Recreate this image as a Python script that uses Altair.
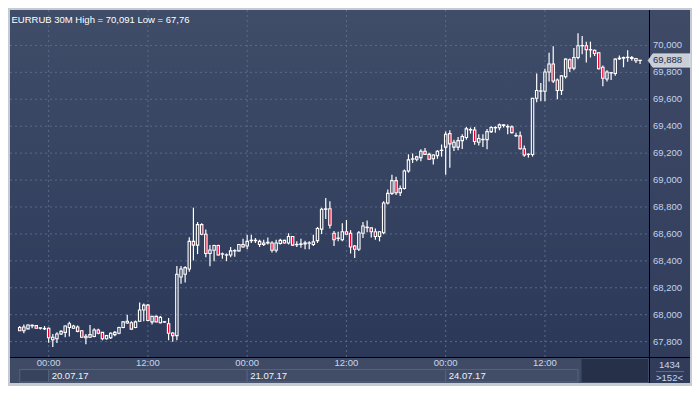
import altair as alt
import pandas as pd

# ---------------- data ----------------
opens = [67905, 67881, 67895, 67918, 67919, 67900, 67895, 67900, 67814, 67821,
         67857, 67869, 67905, 67900, 67909, 67881, 67829, 67833, 67838, 67886,
         67869, 67821, 67829, 67852, 67862, 67905, 67938, 67940, 67905, 67952,
         68035, 68071, 67947, 67988, 67940, 67945, 67933, 67864, 67845, 68280,
         68300, 68340, 68545, 68517, 68669, 68598, 68455, 68479, 68514, 68450,
         68443, 68443, 68474, 68474, 68522, 68510, 68550, 68553, 68545, 68522,
         68533, 68533, 68479, 68529, 68552, 68533, 68581, 68520, 68522, 68526,
         68533, 68522, 68550, 68636, 68783, 68787, 68605, 68567, 68557, 68616,
         68605, 68510, 68486, 68605, 68650, 68645, 68616, 68581, 68609, 68830,
         68901, 68996, 68906, 68937, 69067, 69155, 69155, 69167, 69214, 69191,
         69158, 69181, 69220, 69245, 69345, 69245, 69245, 69293, 69316, 69375,
         69372, 69281, 69300, 69300, 69360, 69390, 69388, 69410, 69395, 69395,
         69330, 69328, 69233, 69190, 69190, 69608, 69660, 69660, 69803, 69862,
         69743, 69665, 69767, 69893, 69831, 69910, 69997, 69997, 69969, 69964,
         69945, 69838, 69751, 69796, 69791, 69900, 69905, 69912, 69910, 69903,
         69890]
highs = [67916, 67928, 67928, 67928, 67924, 67905, 67916, 67905, 67857, 67870,
         67885, 67920, 67947, 67925, 67920, 67885, 67857, 67924, 67900, 67895,
         67870, 67850, 67870, 67880, 67910, 67952, 67999, 67952, 67957, 68090,
         68083, 68080, 67990, 67995, 67990, 67952, 67976, 67870, 68362, 68362,
         68360, 68576, 68795, 68688, 68680, 68633, 68517, 68520, 68520, 68462,
         68455, 68503, 68486, 68525, 68564, 68593, 68593, 68569, 68557, 68557,
         68574, 68545, 68557, 68564, 68557, 68605, 68585, 68545, 68564, 68550,
         68545, 68593, 68652, 68795, 68866, 68842, 68621, 68617, 68680, 68704,
         68628, 68517, 68621, 68688, 68699, 68647, 68640, 68621, 68842, 68930,
         69039, 69025, 68960, 69079, 69191, 69198, 69181, 69229, 69238, 69202,
         69191, 69222, 69264, 69360, 69370, 69300, 69320, 69340, 69395, 69390,
         69395, 69340, 69340, 69380, 69400, 69400, 69420, 69415, 69412, 69405,
         69352, 69360, 69257, 69198, 69610, 69791, 69720, 69827, 69945, 69993,
         69755, 69780, 69903, 69903, 69981, 70091, 70069, 70028, 70028, 69969,
         69950, 69850, 69815, 69803, 69903, 69926, 69917, 69964, 69921, 69905,
         69890]
lows = [67881, 67862, 67893, 67900, 67897, 67890, 67886, 67791, 67760, 67790,
        67850, 67833, 67838, 67895, 67870, 67829, 67781, 67829, 67833, 67855,
        67810, 67815, 67820, 67840, 67855, 67900, 67933, 67890, 67900, 67947,
        67952, 67952, 67928, 67945, 67935, 67940, 67810, 67800, 67810, 68230,
        68240, 68320, 68403, 68450, 68590, 68427, 68360, 68398, 68440, 68415,
        68398, 68427, 68431, 68470, 68500, 68486, 68533, 68533, 68503, 68510,
        68522, 68462, 68462, 68522, 68530, 68522, 68510, 68503, 68498, 68486,
        68486, 68510, 68533, 68600, 68711, 68640, 68510, 68545, 68545, 68593,
        68455, 68422, 68474, 68569, 68612, 68574, 68557, 68545, 68597, 68818,
        68889, 68889, 68882, 68930, 69055, 69127, 69139, 69139, 69186, 69150,
        69115, 69158, 69174, 69039, 69091, 69215, 69222, 69230, 69300, 69345,
        69262, 69257, 69245, 69229, 69350, 69352, 69370, 69390, 69340, 69345,
        69320, 69225, 69174, 69167, 69174, 69577, 69585, 69585, 69732, 69720,
        69601, 69632, 69755, 69803, 69815, 69898, 69934, 69874, 69910, 69921,
        69822, 69696, 69732, 69744, 69774, 69893, 69838, 69879, 69886, 69870,
        69862]
closes = [67881, 67909, 67924, 67922, 67900, 67903, 67898, 67829, 67833, 67857,
          67876, 67916, 67933, 67916, 67876, 67833, 67840, 67852, 67886, 67862,
          67821, 67845, 67862, 67869, 67905, 67947, 67952, 67893, 67947, 68035,
          68071, 67957, 67988, 67947, 67980, 67948, 67862, 67845, 68300, 68340,
          68350, 68545, 68517, 68669, 68598, 68455, 68481, 68514, 68443, 68452,
          68445, 68474, 68476, 68522, 68503, 68545, 68553, 68550, 68522, 68533,
          68538, 68479, 68533, 68552, 68533, 68581, 68517, 68522, 68526, 68533,
          68531, 68541, 68640, 68783, 68786, 68664, 68557, 68569, 68616, 68598,
          68503, 68486, 68609, 68659, 68647, 68616, 68581, 68616, 68830, 68901,
          68996, 68906, 68937, 69067, 69150, 69158, 69172, 69214, 69191, 69155,
          69186, 69214, 69222, 69340, 69269, 69281, 69293, 69323, 69380, 69372,
          69286, 69309, 69302, 69360, 69390, 69388, 69410, 69405, 69398, 69352,
          69329, 69233, 69186, 69192, 69608, 69665, 69662, 69803, 69862, 69736,
          69665, 69774, 69898, 69831, 69910, 69997, 69999, 69969, 69967, 69940,
          69827, 69756, 69803, 69798, 69898, 69905, 69910, 69910, 69903, 69886,
          69888]

y_ticks = [67800, 68000, 68200, 68400, 68600, 68800, 69000, 69200, 69400, 69600, 69800, 70000]
y_labels = ["67,800", "68,000", "68,200", "68,400", "68,600", "68,800",
            "69,000", "69,200", "69,400", "69,600", "69,800", "70,000"]
time_pos = [7, 31, 55, 79, 103, 127]
time_labels = ["00:00", "12:00", "00:00", "12:00", "00:00", "12:00"]
first_box = [0, 7]
day_start = [7, 55, 103]
day_end = [55, 103, 135]
day_labels = ["20.07.17", "21.07.17", "24.07.17"]
last_price = [69888]
last_label = ["69,888"]
title_text = "EURRUB 30M High = 70,091 Low = 67,76"
info_top = "1434"
info_bottom = ">152<"

# ---------------- layout ----------------
W, H = 639, 347
FONT = "Liberation Sans"
xs = alt.Scale(domain=[-1.14, 150.95], nice=False, zero=False)
ys = alt.Scale(domain=[67686, 70263], nice=False, zero=False)

n = len(opens)
df = pd.DataFrame({"i": list(range(n)), "o": opens, "h": highs, "l": lows, "c": closes})
df["top"] = df[["o", "c"]].max(axis=1)
df["bot"] = df[["o", "c"]].min(axis=1)
bull = df[df["c"] >= df["o"]]
bear = df[df["c"] < df["o"]]

one = pd.DataFrame({"a": [0]})
X = lambda f: alt.X(f, type="quantitative", scale=xs, axis=None)
Y = lambda f: alt.Y(f, type="quantitative", scale=ys, axis=None)

grad = alt.LinearGradient(
    gradient="linear",
    stops=[alt.GradientStop(color="#404d69", offset=0),
           alt.GradientStop(color="#2b3858", offset=1)],
    x1=0, x2=0, y1=0, y2=1)
grad_r = alt.LinearGradient(
    gradient="linear",
    stops=[alt.GradientStop(color="#3e4a66", offset=0),
           alt.GradientStop(color="#2f3b59", offset=1)],
    x1=0, x2=0, y1=0, y2=1)

bg = alt.Chart(one).mark_rect(fill=grad).encode(
    x=alt.value(0), x2=alt.value(W), y=alt.value(0), y2=alt.value(H))

gy = pd.DataFrame({"v": y_ticks, "lab": y_labels})
hgrid = alt.Chart(gy).mark_rule(color="#5b6a88", strokeDash=[2, 3], strokeWidth=1).encode(
    y=Y("v"), x=alt.value(0), x2=alt.value(W))

gt = pd.DataFrame({"p": time_pos, "lab": time_labels})
vgrid = alt.Chart(gt).mark_rule(color="#5b6a88", strokeDash=[2, 3], strokeWidth=1).encode(
    x=X("p"), y=alt.value(0), y2=alt.value(H))

wick_up = alt.Chart(df).mark_rule(color="#ffffff", strokeWidth=1.2).encode(
    x=X("i"), y=Y("h"), y2="top:Q")
wick_dn = alt.Chart(df).mark_rule(color="#ffffff", strokeWidth=1.2).encode(
    x=X("i"), y=Y("bot"), y2="l:Q")
body_bull = alt.Chart(bull).mark_bar(size=2.4, stroke="#ffffff", strokeWidth=1.1,
                                     fill="#34415f", fillOpacity=0).encode(
    x=X("i"), y=Y("top"), y2="bot:Q")
body_bear = alt.Chart(bear).mark_bar(size=2.4, stroke="#ffffff", strokeWidth=1.1,
                                     fill="#e8002e").encode(
    x=X("i"), y=Y("top"), y2="bot:Q")

# panels
right_panel = alt.Chart(one).mark_rect(fill=grad_r).encode(
    x=alt.value(640), x2=alt.value(680), y=alt.value(0), y2=alt.value(373))
bottom_panel = alt.Chart(one).mark_rect(fill="#3f4b65").encode(
    x=alt.value(0), x2=alt.value(639), y=alt.value(348), y2=alt.value(373))
dark_box = alt.Chart(one).mark_rect(fill="#263049").encode(
    x=alt.value(571.5), x2=alt.value(638), y=alt.value(349), y2=alt.value(372))
fb = pd.DataFrame({"s": [first_box[0]], "e": [first_box[1]]})
first_rect = alt.Chart(fb).mark_rect(stroke="#56627c", strokeWidth=1, fill="#37435d").encode(
    x=X("s"), x2="e:Q", y=alt.value(359.5), y2=alt.value(372))
days = pd.DataFrame({"s": day_start, "e": day_end, "lab": day_labels})
day_rects = alt.Chart(days).mark_rect(stroke="#56627c", strokeWidth=1, fill="#414d67").encode(
    x=X("s"), x2="e:Q", y=alt.value(359.5), y2=alt.value(372))
vline = alt.Chart(one).mark_rule(color="#000000", strokeWidth=1).encode(
    x=alt.value(639.5), y=alt.value(0), y2=alt.value(373))
hline = alt.Chart(one).mark_rule(color="#000000", strokeWidth=1).encode(
    x=alt.value(0), x2=alt.value(680), y=alt.value(347.5))
sep = alt.Chart(one).mark_rule(color="#5d6a85", strokeWidth=1).encode(
    x=alt.value(646), x2=alt.value(674), y=alt.value(361.5))

# texts
title = alt.Chart(one).mark_text(text=title_text, align="left", baseline="middle",
                                 font=FONT, fontSize=9.5, color="#ffffff").encode(
    x=alt.value(1.5), y=alt.value(9.5))
ylab = alt.Chart(gy).mark_text(align="left", baseline="middle", font=FONT, fontSize=9.5,
                               color="#c3d3ee").encode(
    x=alt.value(643), y=Y("v"), text="lab:N")
tlab = alt.Chart(gt).mark_text(align="center", baseline="middle", font=FONT, fontSize=9.5,
                               color="#c8d6ee").encode(
    x=X("p"), y=alt.value(352.5), text="lab:N")
dlab = alt.Chart(days).mark_text(align="left", baseline="middle", font=FONT, fontSize=9.5,
                                 color="#eef2f8", dx=3).encode(
    x=X("s"), y=alt.value(366), text="lab:N")
info1 = alt.Chart(one).mark_text(text=info_top, align="center", baseline="middle",
                                 font=FONT, fontSize=9.5, color="#c8d6ee").encode(
    x=alt.value(659.5), y=alt.value(354.5))
info2 = alt.Chart(one).mark_text(text=info_bottom, align="center", baseline="middle",
                                 font=FONT, fontSize=9.5, color="#c8d6ee").encode(
    x=alt.value(659.5), y=alt.value(367.5))

lp = pd.DataFrame({"v": last_price, "lab": last_label})
marker = alt.Chart(lp).mark_point(
    shape="M-1,0L-0.77,-0.32L1,-0.32L1,0.32L-0.77,0.32Z",
    filled=True, fill="#c9ced7", stroke="#eef0f4", strokeWidth=0.5, opacity=1, size=1764).encode(
    x=alt.value(659), y=Y("v"))
marker_txt = alt.Chart(lp).mark_text(align="left", baseline="middle", font=FONT, fontSize=9.5,
                                     color="#1c2a48").encode(
    x=alt.value(643), y=Y("v"), text="lab:N")

chart = alt.layer(
    bg, hgrid, vgrid, wick_up, wick_dn, body_bull, body_bear,
    right_panel, bottom_panel, dark_box, first_rect, day_rects, vline, hline, sep,
    title, ylab, tlab, dlab, info1, info2, marker, marker_txt
).properties(
    width=W, height=H,
    autosize=alt.AutoSizeParams(type="none"),
    padding={"left": 2, "top": 2, "right": 43, "bottom": 29},
    background="#c6cad2",
).configure_view(stroke=None)

chart.save("out.html", embed_options={"renderer": "svg", "actions": False})
